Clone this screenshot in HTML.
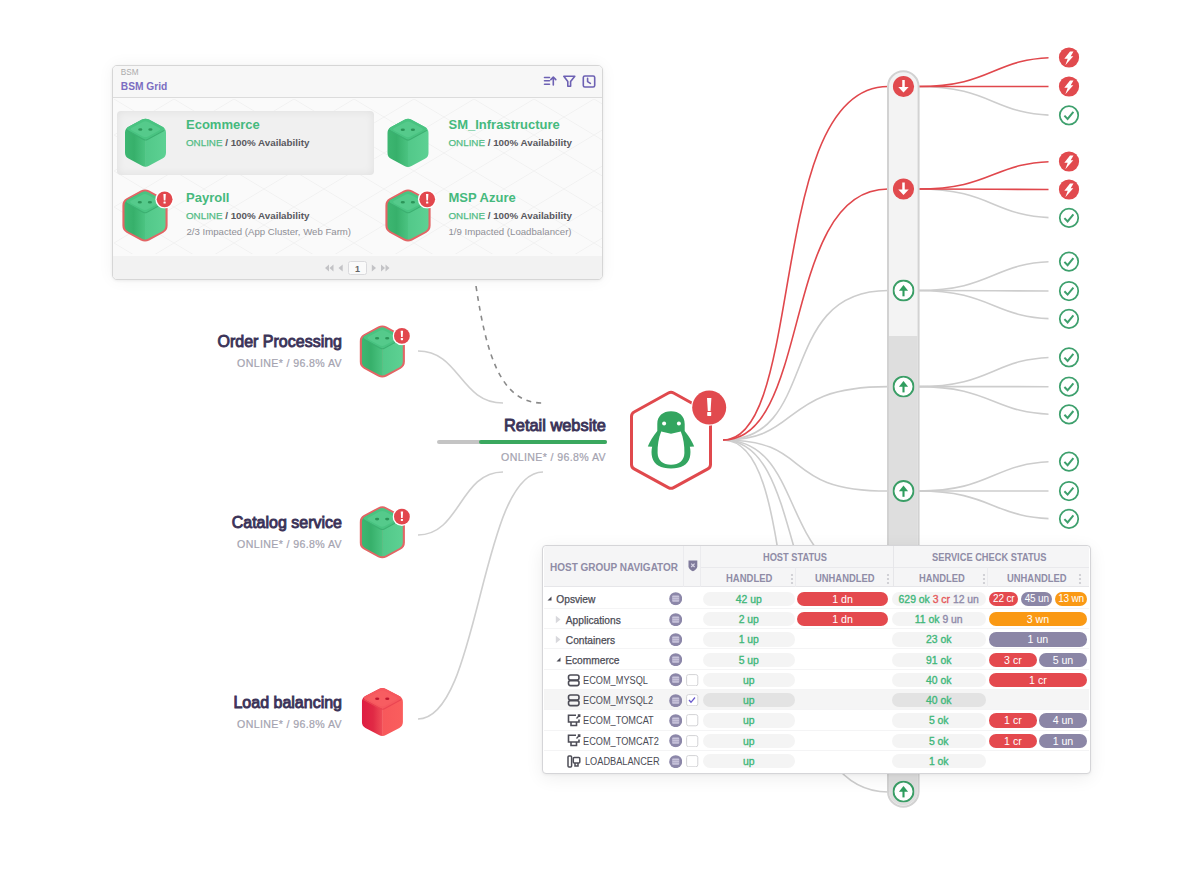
<!DOCTYPE html>
<html><head><meta charset="utf-8">
<style>
*{box-sizing:border-box;margin:0;padding:0}
html,body{width:1200px;height:873px;overflow:hidden;background:#fff}
body{position:relative;font-family:"Liberation Sans",sans-serif;}
.abs{position:absolute}
svg.layer{position:absolute;left:0;top:0}
.t{position:absolute;white-space:nowrap;line-height:1}
/* BSM panel */
#bsm{position:absolute;left:112px;top:65px;width:491px;height:215px;border:1.5px solid #d6d6d6;border-radius:5px;background:#fafafa;box-shadow:0 1px 3px rgba(0,0,0,.06),0 0 16px rgba(0,0,0,.05);overflow:hidden}
#bsm .hdr{position:absolute;left:0;top:0;right:0;height:32px;background:#f7f7f7;border-bottom:1.5px solid #dcdcdc}
#bsm .ftr{position:absolute;left:0;bottom:0;right:0;height:23px;background:#f2f2f2}
.g{color:#3fbd7a}
.tt{font-weight:bold;font-size:13px;color:#45b97d}
.st{font-size:9.8px;font-weight:bold;color:#58585e}
.st b{color:#52bc85;font-weight:normal;-webkit-text-stroke:0.25px #52bc85}
.imp{font-size:9.65px;color:#8f8f96}
.nm{font-weight:normal;font-size:16px;color:#3b3358;-webkit-text-stroke:0.9px #3b3358;text-align:right}
.sub{font-weight:normal;font-size:10.6px;letter-spacing:.38px;color:#a4a3b0;-webkit-text-stroke:0.2px #a4a3b0;text-align:right}
/* table */
#tbl{position:absolute;left:542px;top:544.5px;width:548.5px;height:229.5px;border:1.5px solid #d5d5d8;border-radius:4px;background:#fff;box-shadow:0 1px 3px rgba(0,0,0,.05),0 4px 18px rgba(0,0,0,.07);overflow:hidden}
.th{font-weight:bold;color:#8f8ca6}
.pill{position:absolute;height:14.4px;border-radius:7.2px;text-align:center;font-size:10.4px;font-weight:normal;-webkit-text-stroke:0.35px currentColor;line-height:16px;white-space:nowrap}
.rn{font-size:10.2px;color:#4b4b55;-webkit-text-stroke:0.25px #4b4b55}
.hn{font-size:10px;color:#4b4b55;transform:scaleX(.92);transform-origin:0 0}
</style></head>
<body>

<!-- lines layer -->
<svg class="layer" width="1200" height="873" viewBox="0 0 1200 873">
 <defs>
  <linearGradient id="gl" x1="0" y1="0" x2="1" y2="0"><stop offset="0" stop-color="#3db772"/><stop offset="0.45" stop-color="#37b06b"/><stop offset="1" stop-color="#4cc482"/></linearGradient>
  <linearGradient id="gr" x1="0" y1="0" x2="1" y2="0"><stop offset="0" stop-color="#52c889"/><stop offset="1" stop-color="#5dd193"/></linearGradient>
  <linearGradient id="rl" x1="0" y1="0" x2="1" y2="0"><stop offset="0" stop-color="#df1c42"/><stop offset="0.55" stop-color="#e02a45"/><stop offset="1" stop-color="#f04e58"/></linearGradient>
  <linearGradient id="rr" x1="0" y1="0" x2="1" y2="0"><stop offset="0" stop-color="#f7585b"/><stop offset="1" stop-color="#fa5e5d"/></linearGradient>
  <clipPath id="hexclip"><path d="M17.48 2.39 Q21.00 0.50 24.52 2.39 L37.98 9.61 Q41.50 11.50 41.50 15.50 L41.50 35.50 Q41.50 39.50 37.98 41.39 L24.52 48.61 Q21.00 50.50 17.48 48.61 L4.02 41.39 Q0.50 39.50 0.50 35.50 L0.50 15.50 Q0.50 11.50 4.02 9.61 Z"/></clipPath>
  <symbol id="cube" viewBox="0 0 42 51">
   <g clip-path="url(#hexclip)">
    <rect x="0" y="0" width="21.4" height="51" fill="url(#gl)"/>
    <rect x="21" y="0" width="21" height="51" fill="url(#gr)"/>
   </g>
   <path d="M17.48 2.39 Q21.00 0.50 24.52 2.39 L37.98 9.61 Q41.50 11.50 38.00 13.43 L24.50 20.87 Q21.00 22.80 17.50 20.87 L4.00 13.43 Q0.50 11.50 4.02 9.61 Z" fill="#49c381"/>
   <path d="M2.5 13.2 L19 22.2 Q21 23.3 23 22.2 L39.5 13.2" fill="none" stroke="#3cb071" stroke-width="1.1" stroke-linecap="round"/>
   <path d="M18.35 4.81 Q21.00 3.40 23.65 4.81 L34.55 10.59 Q37.20 12.00 34.55 13.41 L23.65 19.19 Q21.00 20.60 18.35 19.19 L7.45 13.41 Q4.80 12.00 7.45 10.59 Z" fill="#55ca8b"/>
   <ellipse cx="15.8" cy="12.3" rx="2.1" ry="1.3" fill="#2b9458"/>
   <ellipse cx="25.9" cy="12.3" rx="2.1" ry="1.3" fill="#2b9458"/>
  </symbol>
  <symbol id="cubeo" viewBox="-2 -2 46 55">
   <path d="M16.78 0.59 Q21.00 -1.70 25.22 0.59 L39.38 8.31 Q43.60 10.60 43.60 15.40 L43.60 35.60 Q43.60 40.40 39.38 42.69 L25.22 50.41 Q21.00 52.70 16.78 50.41 L2.62 42.69 Q-1.60 40.40 -1.60 35.60 L-1.60 15.40 Q-1.60 10.60 2.62 8.31 Z" fill="#e26565"/>
   <use href="#cube" x="0" y="0" width="42" height="51"/>
  </symbol>
  <symbol id="cuber" viewBox="0 0 42 51">
   <g clip-path="url(#hexclip)">
    <rect x="0" y="0" width="21.4" height="51" fill="url(#rl)"/>
    <rect x="21" y="0" width="21" height="51" fill="url(#rr)"/>
   </g>
   <path d="M17.48 2.39 Q21.00 0.50 24.52 2.39 L37.98 9.61 Q41.50 11.50 38.00 13.43 L24.50 20.87 Q21.00 22.80 17.50 20.87 L4.00 13.43 Q0.50 11.50 4.02 9.61 Z" fill="#f5585e"/>
   <path d="M2.5 13.2 L19 22.2 Q21 23.3 23 22.2 L39.5 13.2" fill="none" stroke="#ea4552" stroke-width="1.1" stroke-linecap="round"/>
   <path d="M18.35 4.81 Q21.00 3.40 23.65 4.81 L34.55 10.59 Q37.20 12.00 34.55 13.41 L23.65 19.19 Q21.00 20.60 18.35 19.19 L7.45 13.41 Q4.80 12.00 7.45 10.59 Z" fill="#f75d61"/>
   <ellipse cx="15.8" cy="12.3" rx="2.1" ry="1.3" fill="#c0152f"/>
   <ellipse cx="25.9" cy="12.3" rx="2.1" ry="1.3" fill="#c0152f"/>
  </symbol>
  <symbol id="badge" viewBox="-9.5 -9.5 19 19">
   <circle r="9.3" fill="#fff"/>
   <circle r="7.9" fill="#e2474d"/>
   <path d="M-1.2 -5.2 H1.2 L0.8 1.2 H-0.8 Z" fill="#fff"/>
   <rect x="-1.1" y="2.2" width="2.2" height="2.1" rx="0.4" fill="#fff"/>
  </symbol>
 </defs>
 <!-- left connectors -->
 <g fill="none" stroke="#cfcfcf" stroke-width="1.6">
  <path d="M418 351 C460 351 460 403 503 403"/>
  <path d="M418 535 C460 535 460 472 503 472"/>
  <path d="M418 719 C480 719 480 472 543 472"/>
 </g>
 <path d="M476 286 C486 352 500 403 542 403" fill="none" stroke="#8a8a8a" stroke-width="1.6" stroke-dasharray="5 5"/>
</svg>

<!-- right side layer -->
<svg class="layer" width="1200" height="873" viewBox="0 0 1200 873">
 <defs>
  <symbol id="bolt" viewBox="-10.5 -10.5 21 21">
   <circle r="10.1" fill="#e14a4e"/>
   <path d="M1 -5.9 L4.5 -5.9 L1.7 -1.3 L4.3 -1.3 L-3.7 7.7 L-1.3 1.3 L-4.7 1.3 Z" fill="#fff"/>
  </symbol>
  <symbol id="check" viewBox="-10.5 -10.5 21 21">
   <circle r="9.25" fill="#fff" stroke="#3ea06d" stroke-width="1.75"/>
   <path d="M-4.6 0.3 L-1.4 3.6 L4.4 -3.4" fill="none" stroke="#3ea06d" stroke-width="2"/>
  </symbol>
  <symbol id="rdown" viewBox="-11 -11 22 22">
   <circle r="10.6" fill="#e14a4e"/>
   <rect x="-1.25" y="-6.5" width="2.5" height="8" fill="#fff"/>
   <path d="M-5.2 0.4 L5.2 0.4 L0 6 Z" fill="#fff"/>
  </symbol>
  <symbol id="gup" viewBox="-11 -11 22 22">
   <circle r="10" fill="#fff" stroke="#3a9e66" stroke-width="1.9"/>
   <rect x="-1.05" y="-1.5" width="2.1" height="7.3" fill="#2f9d5e"/>
   <path d="M-4.6 0.2 L4.6 0.2 L0 -5.6 Z" fill="#2f9d5e"/>
  </symbol>
 </defs>
<g fill="none" stroke-width="1.6">
<path d="M723 440 C821 440 775 290.5 888 290.5" stroke="#cdcdcd"/>
<path d="M723 440 C803 440 778 386.6 888 386.6" stroke="#cdcdcd"/>
<path d="M723 440 C815 440 778 491 888 491" stroke="#cdcdcd"/>
<path d="M723 440 C810 440 775 583 888 583" stroke="#cdcdcd"/>
<path d="M723 440 C810 440 775 667 888 667" stroke="#cdcdcd"/>
<path d="M723 440 C810 440 754 792 888 792" stroke="#cdcdcd"/>
<path d="M723 440 C806 440 766 86.5 888 86.5" stroke="#e0474c"/>
<path d="M723 440 C812 440 781 189 888 189" stroke="#e0474c"/>
</g>
<clipPath id="rc"><rect x="0" y="0" width="1048.5" height="873"/></clipPath>
<g fill="none" stroke-width="1.6" clip-path="url(#rc)">
<path d="M918 86.5 C994 86.5 992 115.3 1058 115.3" stroke="#cdcdcd"/>
<path d="M918 189 C994 189 992 217.8 1058 217.8" stroke="#cdcdcd"/>
<path d="M918 290.5 C994 290.5 992 261.6 1058 261.6" stroke="#cdcdcd"/>
<path d="M918 290.5 C994 290.5 992 291 1058 291" stroke="#cdcdcd"/>
<path d="M918 290.5 C994 290.5 992 318.8 1058 318.8" stroke="#cdcdcd"/>
<path d="M918 386.6 C994 386.6 992 357.3 1058 357.3" stroke="#cdcdcd"/>
<path d="M918 386.6 C994 386.6 992 386.7 1058 386.7" stroke="#cdcdcd"/>
<path d="M918 386.6 C994 386.6 992 414.4 1058 414.4" stroke="#cdcdcd"/>
<path d="M918 491 C994 491 992 461.6 1058 461.6" stroke="#cdcdcd"/>
<path d="M918 491 C994 491 992 491 1058 491" stroke="#cdcdcd"/>
<path d="M918 491 C994 491 992 518.8 1058 518.8" stroke="#cdcdcd"/>
<path d="M918 86.5 C994 86.5 992 57.5 1058 57.5" stroke="#e0474c"/>
<path d="M918 86.5 C994 86.5 992 86.5 1058 86.5" stroke="#e0474c"/>
<path d="M918 189 C994 189 992 161.5 1058 161.5" stroke="#e0474c"/>
<path d="M918 189 C994 189 992 189.5 1058 189.5" stroke="#e0474c"/>
</g>
<use href="#bolt" x="1058.5" y="47.0" width="21" height="21"/>
<use href="#bolt" x="1058.5" y="76.0" width="21" height="21"/>
<use href="#check" x="1058.5" y="104.8" width="21" height="21"/>
<use href="#bolt" x="1058.5" y="151.0" width="21" height="21"/>
<use href="#bolt" x="1058.5" y="179.0" width="21" height="21"/>
<use href="#check" x="1058.5" y="207.3" width="21" height="21"/>
<use href="#check" x="1058.5" y="251.1" width="21" height="21"/>
<use href="#check" x="1058.5" y="280.5" width="21" height="21"/>
<use href="#check" x="1058.5" y="308.3" width="21" height="21"/>
<use href="#check" x="1058.5" y="346.8" width="21" height="21"/>
<use href="#check" x="1058.5" y="376.2" width="21" height="21"/>
<use href="#check" x="1058.5" y="403.9" width="21" height="21"/>
<use href="#check" x="1058.5" y="451.1" width="21" height="21"/>
<use href="#check" x="1058.5" y="480.5" width="21" height="21"/>
<use href="#check" x="1058.5" y="508.3" width="21" height="21"/>
 <!-- bar -->
 <rect x="888" y="71.2" width="30.6" height="735.5" rx="15.3" fill="#f3f3f3" stroke="#d2d2d2" stroke-width="2"/>
 <path d="M889 336 H917.6 V791 A14.3 14.3 0 0 1 889 791 Z" fill="#dedede"/>
 <use href="#rdown" x="892.5" y="75.5" width="22" height="22"/>
 <use href="#rdown" x="892.5" y="178" width="22" height="22"/>
 <use href="#gup" x="892.5" y="279.5" width="22" height="22"/>
 <use href="#gup" x="892.5" y="375.6" width="22" height="22"/>
 <use href="#gup" x="892.5" y="480" width="22" height="22"/>
 <use href="#gup" x="892.5" y="780.6" width="22" height="22"/>
 <!-- penguin hex -->
 <path d="M668.38 392.96 Q671.00 391.50 673.62 392.96 L707.88 412.04 Q710.50 413.50 710.50 416.50 L710.50 464.50 Q710.50 467.50 707.87 468.93 L673.63 487.57 Q671.00 489.00 668.37 487.57 L634.13 468.93 Q631.50 467.50 631.50 464.50 L631.50 416.50 Q631.50 413.50 634.12 412.04 Z" fill="#fff" stroke="#e0494d" stroke-width="3" stroke-linejoin="round"/>
 <path d="M671 411.3 C663 411.3 657.3 416 657.3 424 L657.3 431 C653 436 649.5 442 647.8 446.6 L652.2 446.8 C651.3 450 651.3 454 652.2 457.5 C654 465 661 468.4 671 468.4 C681 468.4 688 465 689.8 457.5 C690.7 454 690.7 450 689.8 446.8 L694.2 446.6 C692.5 442 689 436 684.7 431 L684.7 424 C684.7 416 679 411.3 671 411.3 Z" fill="#33a560"/>
 <path d="M671 433.8 L661.2 431.6 C658.6 438 657.4 446 657.6 453 C657.8 460.5 663 464.8 671 464.8 C679 464.8 684.2 460.5 684.4 453 C684.6 446 683.4 438 680.8 431.6 Z" fill="#fff"/>
 <circle cx="664.1" cy="423.6" r="2" fill="#fff"/>
 <circle cx="678.9" cy="423.6" r="2" fill="#fff"/>
 <circle cx="709.2" cy="407.5" r="18.2" fill="#fff"/>
 <circle cx="709.2" cy="407.5" r="17" fill="#e14a4e"/>
 <path d="M707 398 H711.4 L710.6 411 H707.8 Z" fill="#fff"/>
 <rect x="707.2" y="412" width="4" height="3.9" rx="0.6" fill="#fff"/>
</svg>

<!-- BSM panel -->
<div id="bsm">
 <div class="hdr"></div>
 <div class="ftr"></div>
</div>
<svg class="abs" style="left:113.5px;top:99px" width="488" height="155">
 <defs><pattern id="dia" width="60" height="36" patternUnits="userSpaceOnUse"><path d="M0 0 L30 18 L60 0 M0 36 L30 18 L60 36" fill="none" stroke="#f1f1f1" stroke-width="1"/></pattern></defs>
 <rect width="488" height="155" fill="url(#dia)"/>
</svg>
<svg class="abs" style="left:542px;top:73px" width="56" height="17" viewBox="542 73 56 17">
 <g fill="none" stroke="#6d61b3" stroke-width="1.6" stroke-linecap="round" stroke-linejoin="round">
  <path d="M544.5 77.5 H549.5 M544.5 80.8 H549.5 M544.5 84.2 H549.5"/>
  <path d="M553.3 85 V77.3 M550.8 79.6 L553.3 77 L555.8 79.6"/>
  <path d="M563.8 76.3 H574.8 L570.6 81.6 V86.2 L567.8 86.2 V81.6 Z"/>
  <rect x="583.3" y="76" width="11.4" height="11" rx="1.6"/>
  <path d="M587.6 78.4 V81.6 L590.4 83.4"/>
 </g>
</svg>
<svg class="abs" style="left:320px;top:258px" width="75" height="20" viewBox="320 258 75 20">
 <g fill="#c3c3c6">
  <path d="M329 264.5 L325 268 L329 271.5 Z M333.5 264.5 L329.5 268 L333.5 271.5 Z"/>
  <path d="M342.7 264.5 L338.5 268 L342.7 271.5 Z"/>
  <path d="M371.8 264.5 L376 268 L371.8 271.5 Z"/>
  <path d="M381 264.5 L385 268 L381 271.5 Z M385.5 264.5 L389.5 268 L385.5 271.5 Z"/>
 </g>
 <rect x="348.5" y="261.5" width="18" height="13" rx="2" fill="#fafafa" stroke="#dadadd" stroke-width="1"/>
 <text x="357.5" y="271.6" font-family="Liberation Sans" font-size="9" font-weight="bold" fill="#666" text-anchor="middle">1</text>
</svg>
<div class="t" style="left:120.8px;top:69.3px;font-size:8.2px;color:#ababab">BSM</div>
<div class="t" style="left:120.8px;top:82.3px;font-size:10.2px;font-weight:bold;color:#7b6dc1">BSM Grid</div>

<!-- tile highlight -->
<div class="abs" style="left:117px;top:111px;width:257px;height:64px;border-radius:4px;background:#f0f0f0;box-shadow:inset 0 0 10px rgba(0,0,0,.07)"></div>

<svg class="layer" width="1200" height="873" viewBox="0 0 1200 873">
 <use href="#cube" x="124.5" y="117.2" width="42" height="51"/>
 <use href="#cube" x="387" y="117.4" width="42" height="51"/>
 <use href="#cubeo" x="122" y="188" width="46" height="55"/>
 <use href="#cubeo" x="385" y="188" width="46" height="55"/>
 <use href="#badge" x="155.1" y="189.8" width="19" height="19"/>
 <use href="#badge" x="417.7" y="189.8" width="19" height="19"/>
 <use href="#cubeo" x="359.3" y="324" width="46" height="55"/>
 <use href="#cubeo" x="359.3" y="504.8" width="46" height="55"/>
 <use href="#cuber" x="361.4" y="686.5" width="42" height="51"/>
 <use href="#badge" x="392.4" y="326.4" width="19" height="19"/>
 <use href="#badge" x="392.4" y="507.2" width="19" height="19"/>
</svg>

<div class="t tt" style="left:186px;top:118.2px">Ecommerce</div>
<div class="t st" style="left:186px;top:138.2px"><b>ONLINE</b> / 100% Availability</div>
<div class="t tt" style="left:448.5px;top:118.2px">SM_Infrastructure</div>
<div class="t st" style="left:448.5px;top:138.2px"><b>ONLINE</b> / 100% Availability</div>
<div class="t tt" style="left:186px;top:190.7px">Payroll</div>
<div class="t st" style="left:186px;top:210.7px"><b>ONLINE</b> / 100% Availability</div>
<div class="t imp" style="left:186.5px;top:226.5px">2/3 Impacted (App Cluster, Web Farm)</div>
<div class="t tt" style="left:448.5px;top:190.7px">MSP Azure</div>
<div class="t st" style="left:448.5px;top:210.7px"><b>ONLINE</b> / 100% Availability</div>
<div class="t imp" style="left:448.5px;top:226.5px">1/9 Impacted (Loadbalancer)</div>

<!-- left nodes text -->
<div class="t nm" style="right:858px;top:333.5px">Order Processing</div>
<div class="t sub" style="right:858px;top:357.5px">ONLINE* / 96.8% AV</div>
<div class="t nm" style="right:858px;top:514.5px">Catalog service</div>
<div class="t sub" style="right:858px;top:538.5px">ONLINE* / 96.8% AV</div>
<div class="t nm" style="right:858px;top:694.5px">Load balancing</div>
<div class="t sub" style="right:858px;top:718.5px">ONLINE* / 96.8% AV</div>

<div class="t nm" style="right:594px;top:416.5px;font-size:16.4px">Retail website</div>
<div class="abs" style="left:437px;top:439.5px;width:170px;height:4px;border-radius:2px;background:#c4c4c4"></div>
<div class="abs" style="left:479px;top:439.5px;width:128px;height:4px;border-radius:2px;background:#3aa85f"></div>
<div class="t sub" style="right:594px;top:451.5px">ONLINE* / 96.8% AV</div>

<!-- table -->
<div id="tbl"></div>
<div class="abs" style="left:543.5px;top:546px;width:545.5px;height:41px;background:#f5f5f6;border-bottom:1px solid #e6e6e9;border-radius:3px 3px 0 0"></div>
<div class="abs" style="left:700.5px;top:567px;width:388.5px;height:1px;background:#e9e9ec"></div>
<div class="abs" style="left:683px;top:546px;width:1px;height:41px;background:#ebebee"></div>
<div class="abs" style="left:700px;top:546px;width:1px;height:41px;background:#ebebee"></div>
<div class="abs" style="left:892.5px;top:546px;width:1px;height:41px;background:#e6e6e9"></div>
<div class="abs" style="left:795px;top:567px;width:1px;height:20px;background:#ebebee"></div>
<div class="abs" style="left:987px;top:567px;width:1px;height:20px;background:#ebebee"></div>
<div class="t th" style="left:550px;top:562px;font-size:11px"><span style="display:inline-block;transform:scaleX(.908);transform-origin:0 0">HOST GROUP NAVIGATOR</span></div>
<svg class="abs" style="left:687.5px;top:560.3px" width="10" height="12"><path d="M0.5 0.5 H9.3 V6.5 C9.3 8.8 7 10.3 4.9 11.2 C2.8 10.3 0.5 8.8 0.5 6.5 Z" fill="#7f7a9b"/><path d="M3.2 3.6 L6.6 7 M6.6 3.6 L3.2 7" stroke="#d9d6e6" stroke-width="1.2"/></svg>
<div class="t th" style="left:762.6px;top:551.7px;font-size:10.6px"><span style="display:inline-block;transform:scaleX(.873);transform-origin:0 0">HOST STATUS</span></div>
<div class="t th" style="left:932.3px;top:551.7px;font-size:10.6px"><span style="display:inline-block;transform:scaleX(.876);transform-origin:0 0">SERVICE CHECK STATUS</span></div>
<div class="t th" style="left:725.9px;top:572.7px;font-size:10.8px"><span style="display:inline-block;transform:scaleX(.878);transform-origin:0 0">HANDLED</span></div>
<div class="t th" style="left:815px;top:572.7px;font-size:10.8px"><span style="display:inline-block;transform:scaleX(.871);transform-origin:0 0">UNHANDLED</span></div>
<div class="t th" style="left:918.5px;top:572.7px;font-size:10.8px"><span style="display:inline-block;transform:scaleX(.868);transform-origin:0 0">HANDLED</span></div>
<div class="t th" style="left:1007.4px;top:572.7px;font-size:10.8px"><span style="display:inline-block;transform:scaleX(.871);transform-origin:0 0">UNHANDLED</span></div>
<svg class="abs" style="left:789.5px;top:572.5px" width="4" height="12"><circle cx="2" cy="2" r="1.1" fill="#c9c9ce"/><circle cx="2" cy="6" r="1.1" fill="#c9c9ce"/><circle cx="2" cy="10" r="1.1" fill="#c9c9ce"/></svg>
<svg class="abs" style="left:885.8px;top:572.5px" width="4" height="12"><circle cx="2" cy="2" r="1.1" fill="#c9c9ce"/><circle cx="2" cy="6" r="1.1" fill="#c9c9ce"/><circle cx="2" cy="10" r="1.1" fill="#c9c9ce"/></svg>
<svg class="abs" style="left:981.6px;top:572.5px" width="4" height="12"><circle cx="2" cy="2" r="1.1" fill="#c9c9ce"/><circle cx="2" cy="6" r="1.1" fill="#c9c9ce"/><circle cx="2" cy="10" r="1.1" fill="#c9c9ce"/></svg>
<svg class="abs" style="left:1077.8px;top:572.5px" width="4" height="12"><circle cx="2" cy="2" r="1.1" fill="#c9c9ce"/><circle cx="2" cy="6" r="1.1" fill="#c9c9ce"/><circle cx="2" cy="10" r="1.1" fill="#c9c9ce"/></svg>
<svg width="0" height="0" style="position:absolute">
 <defs>
  <symbol id="globe" viewBox="0 0 13.4 13.4">
   <circle cx="6.7" cy="6.7" r="6.5" fill="#8c87a9"/>
   <rect x="3.2" y="3.6" width="7" height="6.2" rx="0.8" fill="#c9c5dc"/>
   <path d="M3.2 5.6 H10.2 M3.2 7.7 H10.2" stroke="#a9a4c2" stroke-width="0.8"/>
  </symbol>
  <symbol id="hi_db" viewBox="0 0 14 13">
   <rect x="1.5" y="1" width="10.5" height="5" rx="2" fill="none" stroke="#4d4d57" stroke-width="1.6"/>
   <rect x="1.5" y="6.6" width="10.5" height="5" rx="2" fill="none" stroke="#4d4d57" stroke-width="1.6"/>
  </symbol>
  <symbol id="hi_srv" viewBox="0 0 14 13">
   <path d="M9 1.2 H1.5 V8 H12 V5.5" fill="none" stroke="#4d4d57" stroke-width="1.6"/>
   <path d="M4 8 V11.5 H9.5 V8" fill="none" stroke="#4d4d57" stroke-width="1.6"/>
   <path d="M9.5 4.5 L12.5 1.2 M10.8 1 H12.8 V3" fill="none" stroke="#4d4d57" stroke-width="1.3"/>
  </symbol>
  <symbol id="hi_lb" viewBox="0 0 14 13">
   <rect x="1" y="1" width="3.6" height="11" rx="1" fill="none" stroke="#4d4d57" stroke-width="1.5"/>
   <rect x="6.3" y="2.5" width="6.5" height="5.5" rx="1" fill="none" stroke="#4d4d57" stroke-width="1.5"/>
   <path d="M8 8 V11 H11 V8" fill="none" stroke="#4d4d57" stroke-width="1.5"/>
  </symbol>
 </defs>
</svg>
<svg class="abs" style="left:547.0px;top:596.0px" width="5" height="5"><path d="M4.5 0.5 L4.5 4.5 L0.5 4.5 Z" fill="#4a4a55"/></svg>
<div class="t rn" style="left:556.3px;top:595.2px">Opsview</div>
<svg class="abs" style="left:668.8px;top:592.3px" width="13.4" height="13.4"><use href="#globe"/></svg>
<div class="pill" style="left:703px;top:591.8px;width:91.5px;background:#f4f4f4;color:#3fb77a">42 up</div>
<div class="pill" style="left:796.7px;top:591.8px;width:91.8px;background:#e4494e;color:#fff;font-weight:normal;-webkit-text-stroke:0;line-height:14.8px;font-size:10.6px">1 dn</div>
<div class="pill" style="left:891.5px;top:591.8px;width:94.5px;background:#f4f4f4"><span style="color:#3fb77a">629 ok</span> <span style="color:#e5585b">3 cr</span> <span style="color:#8f8aa9">12 un</span></div>
<div class="pill" style="left:989px;top:591.8px;width:29.4px;background:#e4494e;color:#fff;font-weight:normal;-webkit-text-stroke:0;line-height:14.8px;font-size:10px;letter-spacing:-0.2px">22 cr</div>
<div class="pill" style="left:1021.2px;top:591.8px;width:31.1px;background:#8b86a6;color:#fff;font-weight:normal;-webkit-text-stroke:0;line-height:14.8px;font-size:10px;letter-spacing:-0.2px">45 un</div>
<div class="pill" style="left:1055px;top:591.8px;width:32.2px;background:#fa9914;color:#fff;font-weight:normal;-webkit-text-stroke:0;line-height:14.8px;font-size:10px;letter-spacing:-0.2px">13 wn</div>
<div class="abs" style="left:543.5px;top:607.9px;width:545px;height:1px;background:#f4f4f5"></div>
<svg class="abs" style="left:554.5px;top:614.8px" width="6" height="9"><path d="M0.8 0.8 L5.5 4.5 L0.8 8.2 Z" fill="#d8d8dc"/></svg>
<div class="t rn" style="left:565.8px;top:615.5px">Applications</div>
<svg class="abs" style="left:668.8px;top:612.6px" width="13.4" height="13.4"><use href="#globe"/></svg>
<div class="pill" style="left:703px;top:612.1px;width:91.5px;background:#f4f4f4;color:#3fb77a">2 up</div>
<div class="pill" style="left:796.7px;top:612.1px;width:91.8px;background:#e4494e;color:#fff;font-weight:normal;-webkit-text-stroke:0;line-height:14.8px;font-size:10.6px">1 dn</div>
<div class="pill" style="left:891.5px;top:612.1px;width:94.5px;background:#f4f4f4"><span style="color:#3fb77a">11 ok</span> <span style="color:#8f8aa9">9 un</span></div>
<div class="pill" style="left:989.2px;top:612.1px;width:97.4px;background:#fa9914;color:#fff;font-weight:normal;-webkit-text-stroke:0;line-height:14.8px;font-size:10.6px">3 wn</div>
<div class="abs" style="left:543.5px;top:628.1px;width:545px;height:1px;background:#f4f4f5"></div>
<svg class="abs" style="left:554.5px;top:635.0px" width="6" height="9"><path d="M0.8 0.8 L5.5 4.5 L0.8 8.2 Z" fill="#d8d8dc"/></svg>
<div class="t rn" style="left:565.8px;top:635.7px">Containers</div>
<svg class="abs" style="left:668.8px;top:632.8px" width="13.4" height="13.4"><use href="#globe"/></svg>
<div class="pill" style="left:703px;top:632.3px;width:91.5px;background:#f4f4f4;color:#3fb77a">1 up</div>
<div class="pill" style="left:891.5px;top:632.3px;width:94.5px;background:#f4f4f4"><span style="color:#3fb77a">23 ok</span></div>
<div class="pill" style="left:989.2px;top:632.3px;width:97.4px;background:#8b86a6;color:#fff;font-weight:normal;-webkit-text-stroke:0;line-height:14.8px;font-size:10.6px">1 un</div>
<div class="abs" style="left:543.5px;top:648.4px;width:545px;height:1px;background:#f4f4f5"></div>
<svg class="abs" style="left:556.0px;top:656.8px" width="5" height="5"><path d="M4.5 0.5 L4.5 4.5 L0.5 4.5 Z" fill="#4a4a55"/></svg>
<div class="t rn" style="left:565.2px;top:656.0px">Ecommerce</div>
<svg class="abs" style="left:668.8px;top:653.1px" width="13.4" height="13.4"><use href="#globe"/></svg>
<div class="pill" style="left:703px;top:652.6px;width:91.5px;background:#f4f4f4;color:#3fb77a">5 up</div>
<div class="pill" style="left:891.5px;top:652.6px;width:94.5px;background:#f4f4f4"><span style="color:#3fb77a">91 ok</span></div>
<div class="pill" style="left:989.2px;top:652.6px;width:47.4px;background:#e4494e;color:#fff;font-weight:normal;-webkit-text-stroke:0;line-height:14.8px;font-size:10.6px">3 cr</div>
<div class="pill" style="left:1039.3px;top:652.6px;width:47.3px;background:#8b86a6;color:#fff;font-weight:normal;-webkit-text-stroke:0;line-height:14.8px;font-size:10.6px">5 un</div>
<div class="abs" style="left:543.5px;top:668.7px;width:545px;height:1px;background:#f4f4f5"></div>
<div class="t hn" style="left:582.5px;top:675.8px">ECOM_MYSQL</div>
<svg class="abs" style="left:566.5px;top:673.6px" width="14" height="13"><use href="#hi_db"/></svg>
<svg class="abs" style="left:686.3px;top:673.9px" width="12.4" height="12.4"><rect x="0.6" y="0.6" width="11.2" height="11.2" rx="2" fill="#fff" stroke="#d3d3d6" stroke-width="1"/></svg>
<svg class="abs" style="left:668.8px;top:673.4px" width="13.4" height="13.4"><use href="#globe"/></svg>
<div class="pill" style="left:703px;top:672.9px;width:91.5px;background:#f4f4f4;color:#3fb77a">up</div>
<div class="pill" style="left:891.5px;top:672.9px;width:94.5px;background:#f4f4f4"><span style="color:#3fb77a">40 ok</span></div>
<div class="pill" style="left:989.2px;top:672.9px;width:97.4px;background:#e4494e;color:#fff;font-weight:normal;-webkit-text-stroke:0;line-height:14.8px;font-size:10.6px">1 cr</div>
<div class="abs" style="left:543.5px;top:689.0px;width:545px;height:20.3px;background:#f5f5f5"></div>
<div class="abs" style="left:543.5px;top:688.9px;width:545px;height:1px;background:#f4f4f5"></div>
<div class="t hn" style="left:582.5px;top:696.1px">ECOM_MYSQL2</div>
<svg class="abs" style="left:566.5px;top:693.9px" width="14" height="13"><use href="#hi_db"/></svg>
<svg class="abs" style="left:686.3px;top:694.1px" width="12.4" height="12.4"><rect x="0.6" y="0.6" width="11.2" height="11.2" rx="2" fill="#fff" stroke="#d3d3d6" stroke-width="1"/><path d="M3 6 L5 8.3 L9 3.5" fill="none" stroke="#6a5acd" stroke-width="1.3"/></svg>
<svg class="abs" style="left:668.8px;top:693.6px" width="13.4" height="13.4"><use href="#globe"/></svg>
<div class="pill" style="left:703px;top:693.1px;width:91.5px;background:#e3e3e3;color:#3fb77a">up</div>
<div class="pill" style="left:891.5px;top:693.1px;width:94.5px;background:#e3e3e3"><span style="color:#3fb77a">40 ok</span></div>
<div class="abs" style="left:543.5px;top:709.2px;width:545px;height:1px;background:#f4f4f5"></div>
<div class="t hn" style="left:582.5px;top:716.3px">ECOM_TOMCAT</div>
<svg class="abs" style="left:566.5px;top:714.1px" width="14" height="13"><use href="#hi_srv"/></svg>
<svg class="abs" style="left:686.3px;top:714.4px" width="12.4" height="12.4"><rect x="0.6" y="0.6" width="11.2" height="11.2" rx="2" fill="#fff" stroke="#d3d3d6" stroke-width="1"/></svg>
<svg class="abs" style="left:668.8px;top:713.9px" width="13.4" height="13.4"><use href="#globe"/></svg>
<div class="pill" style="left:703px;top:713.4px;width:91.5px;background:#f4f4f4;color:#3fb77a">up</div>
<div class="pill" style="left:891.5px;top:713.4px;width:94.5px;background:#f4f4f4"><span style="color:#3fb77a">5 ok</span></div>
<div class="pill" style="left:989.2px;top:713.4px;width:47.4px;background:#e4494e;color:#fff;font-weight:normal;-webkit-text-stroke:0;line-height:14.8px;font-size:10.6px">1 cr</div>
<div class="pill" style="left:1039.3px;top:713.4px;width:47.3px;background:#8b86a6;color:#fff;font-weight:normal;-webkit-text-stroke:0;line-height:14.8px;font-size:10.6px">4 un</div>
<div class="abs" style="left:543.5px;top:729.5px;width:545px;height:1px;background:#f4f4f5"></div>
<div class="t hn" style="left:582.5px;top:736.6px">ECOM_TOMCAT2</div>
<svg class="abs" style="left:566.5px;top:734.4px" width="14" height="13"><use href="#hi_srv"/></svg>
<svg class="abs" style="left:686.3px;top:734.7px" width="12.4" height="12.4"><rect x="0.6" y="0.6" width="11.2" height="11.2" rx="2" fill="#fff" stroke="#d3d3d6" stroke-width="1"/></svg>
<svg class="abs" style="left:668.8px;top:734.2px" width="13.4" height="13.4"><use href="#globe"/></svg>
<div class="pill" style="left:703px;top:733.7px;width:91.5px;background:#f4f4f4;color:#3fb77a">up</div>
<div class="pill" style="left:891.5px;top:733.7px;width:94.5px;background:#f4f4f4"><span style="color:#3fb77a">5 ok</span></div>
<div class="pill" style="left:989.2px;top:733.7px;width:47.4px;background:#e4494e;color:#fff;font-weight:normal;-webkit-text-stroke:0;line-height:14.8px;font-size:10.6px">1 cr</div>
<div class="pill" style="left:1039.3px;top:733.7px;width:47.3px;background:#8b86a6;color:#fff;font-weight:normal;-webkit-text-stroke:0;line-height:14.8px;font-size:10.6px">1 un</div>
<div class="abs" style="left:543.5px;top:749.8px;width:545px;height:1px;background:#f4f4f5"></div>
<div class="t hn" style="left:585px;top:756.9px">LOADBALANCER</div>
<svg class="abs" style="left:566.5px;top:754.7px" width="14" height="13"><use href="#hi_lb"/></svg>
<svg class="abs" style="left:686.3px;top:755.0px" width="12.4" height="12.4"><rect x="0.6" y="0.6" width="11.2" height="11.2" rx="2" fill="#fff" stroke="#d3d3d6" stroke-width="1"/></svg>
<svg class="abs" style="left:668.8px;top:754.5px" width="13.4" height="13.4"><use href="#globe"/></svg>
<div class="pill" style="left:703px;top:754.0px;width:91.5px;background:#f4f4f4;color:#3fb77a">up</div>
<div class="pill" style="left:891.5px;top:754.0px;width:94.5px;background:#f4f4f4"><span style="color:#3fb77a">1 ok</span></div>

</body></html>
